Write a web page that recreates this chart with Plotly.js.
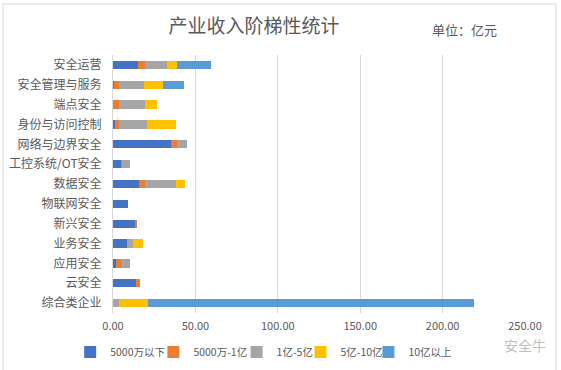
<!DOCTYPE html>
<html><head><meta charset="utf-8">
<script src="https://cdn.plot.ly/plotly-3.0.1.min.js"></script>
<style>html,body{margin:0;padding:0;background:#fff;}#chart{width:561px;height:370px;}</style>
</head><body><div id="chart"></div>
<script>
const categories = ["安全运营","安全管理与服务","端点安全","身份与访问控制","网络与边界安全","工控系统/OT安全","数据安全","物联网安全","新兴安全","业务安全","应用安全","云安全","综合类企业"];
const seriesNames = ["5000万以下","5000万-1亿","1亿-5亿","5亿-10亿","10亿以上"];
const below50m   = [15.4, 0.8, 0,    1.4, 35.4, 5.1, 16.0, 9.3, 13.6, 8.7, 2.0, 14.2, 0];
const m50to1b    = [4.2,  3.0, 3.8,  2.4, 3.6,  0.4, 3.6,  0,   1.2,  0,   3.0, 2.4,  0];
const b1to5      = [13.4, 15.0, 15.8, 17.0, 6.1, 5.1, 18.8, 0,  0,    3.6, 5.5, 0,    3.8];
const b5to10     = [6.1,  11.7, 7.3, 17.6, 0,   0,   5.5,  0,   0,    6.1, 0,   0,    17.4];
const above10b   = [20.6, 12.7, 0,   0,    0,   0,   0,    0,   0,    0,   0,   0,    198.0];
const colors = ["#4472C4","#ED7D31","#A5A5A5","#FFC000","#5B9BD5"];
const allSeries = [below50m, m50to1b, b1to5, b5to10, above10b];
const legendIds = ["legend","legend2","legend3","legend4","legend5"];
const legendX = [-0.104, 0.098, 0.3, 0.455, 0.62];

const traces = allSeries.map((vals, i) => ({
  type: "bar", orientation: "h", name: seriesNames[i],
  y: categories, x: vals, marker: {color: colors[i]},
  legend: legendIds[i], hoverinfo: "x+y+name"
}));

const layout = {
  width: 561, height: 370,
  margin: {l: 113, r: 36, t: 55, b: 57, autoexpand: false},
  barmode: "stack", bargap: 0.58,
  paper_bgcolor: "#fff", plot_bgcolor: "#fff",
  font: {family: "Noto Sans CJK SC, sans-serif", color: "#595959", size: 11},
  title: {text: "产业收入阶梯性统计", x: 0.342, xref: "paper", xanchor: "center",
          yref: "container", y: 0.928, yanchor: "middle",
          font: {size: 19, color: "#595959", family: "Noto Sans CJK SC, sans-serif"}},
  xaxis: {range: [0, 250], dtick: 50, tickformat: ".2f", showgrid: true, gridcolor: "#D9D9D9",
          zeroline: false, showline: false, ticks: "", ticklabelstandoff: 5,
          tickfont: {size: 11, color: "#595959"}, fixedrange: true},
  yaxis: {categoryorder: "array", categoryarray: categories, autorange: "reversed",
          showgrid: false, zeroline: false, showline: true, linecolor: "#D9D9D9", ticks: "",
          ticklabelstandoff: 8,
          tickfont: {size: 12, color: "#595959"}, fixedrange: true},
  annotations: [
    {text: "单位：亿元", xref: "paper", yref: "paper", x: 0.769, y: 1.1, xanchor: "left", yanchor: "middle",
     showarrow: false, font: {size: 13, color: "#595959"}},
    {text: "安全牛", xref: "paper", yref: "paper", x: 0.944, y: -0.124, xanchor: "left", yanchor: "middle",
     showarrow: false, font: {size: 14, color: "#BFBFBF"}}
  ],
  shapes: [
    {type: "rect", xref: "paper", yref: "paper", x0: -0.267, x1: 1.075, y0: -0.3, y1: 1.198,
     line: {color: "#D9D9D9", width: 1}, fillcolor: "rgba(0,0,0,0)", layer: "below"}
  ],
  showlegend: true
};
legendIds.forEach((id, i) => {
  layout[id] = {orientation: "h", x: legendX[i], xanchor: "left", y: -0.151, yanchor: "middle",
    font: {size: 10.5, color: "#595959"}, itemclick: false, bgcolor: "rgba(0,0,0,0)", borderwidth: 0};
});
Plotly.newPlot("chart", traces, layout, {displayModeBar: false, staticPlot: true});
</script></body></html>
